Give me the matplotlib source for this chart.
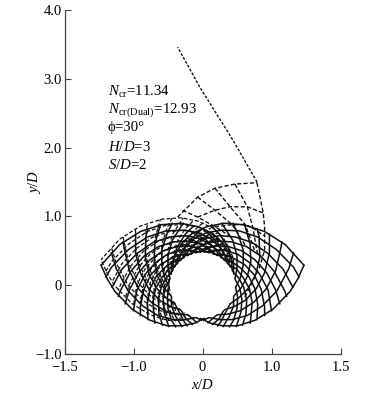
#!/usr/bin/env python3
"""Slip line mesh around a pile, redrawn from the published figure."""
import matplotlib
matplotlib.use('Agg')
import matplotlib.pyplot as plt
from matplotlib.patches import Circle

plt.rcParams['font.family'] = ['Liberation Serif', 'DejaVu Serif']
plt.rcParams['mathtext.fontset'] = 'custom'
plt.rcParams['mathtext.rm'] = 'Liberation Serif'
plt.rcParams['mathtext.it'] = 'Liberation Serif:italic'

# curves, right lobe (the left lobe is its mirror)
family_a = [
    [(-.45, .16), (-.45, .30), (-.39, .45), (-.30, .61), (-.15, .75), (.06, .85), (.31, .90),
     (.59, .88), (.90, .78), (1.20, .59), (1.47, .29)],
    [(-.40, .27), (-.35, .41), (-.26, .54), (-.13, .67), (.05, .76), (.28, .80), (.53, .79),
     (.80, .70), (1.07, .52), (1.32, .26), (1.40, .12)],
    [(-.31, .36), (-.24, .49), (-.11, .59), (.05, .68), (.25, .72), (.48, .70), (.72, .62),
     (.95, .46), (1.17, .23), (1.31, -.03)],
    [(-.21, .43), (-.10, .53), (.04, .60), (.22, .64), (.42, .63), (.64, .56), (.85, .42),
     (1.04, .20), (1.19, -.08), (1.22, -.16)],
    [(-.09, .47), (.04, .54), (.20, .57), (.38, .56), (.57, .50), (.76, .37), (.93, .18),
     (1.06, -.07), (1.12, -.27)],
    [(.03, .48), (.18, .51), (.34, .50), (.51, .45), (.68, .33), (.83, .16), (.95, -.07), (1.00, -.37)],
    [(.16, .45), (.30, .45), (.45, .39), (.61, .30), (.75, .15), (.85, -.06), (.90, -.31), (.90, -.44)],
    [(.27, .40), (.41, .35), (.54, .26), (.67, .13), (.76, -.05), (.80, -.28), (.79, -.50)],
    [(.36, .31), (.49, .24), (.59, .11), (.68, -.05), (.72, -.25), (.70, -.48), (.69, -.55)],
    [(.43, .21), (.53, .10), (.60, -.04), (.64, -.22), (.63, -.42), (.58, -.58)],
    [(.47, .09), (.54, -.04), (.57, -.20), (.56, -.38), (.49, -.60)],
    [(.48, -.03), (.51, -.18), (.50, -.34), (.45, -.51), (.39, -.605)],
    [(.45, -.16), (.45, -.30), (.39, -.45), (.30, -.60)],
    [(.40, -.27), (.26, -.54), (.22, -.59)],
    [(.31, -.36), (.24, -.49), (.145, -.57)],
    [(.21, -.43), (.08, -.545)],
    [(.09, -.47), (.016, -.51)],
]
family_b = [
    [(-.03, -.48), (.11, -.55), (.29, -.59), (.51, -.59), (.76, -.51), (1.02, -.35), (1.27, -.09),
     (1.38, .09), (1.47, .29)],
    [(.09, -.47), (.25, -.50), (.43, -.50), (.65, -.44), (.87, -.30), (1.08, -.08), (1.25, .24), (1.32, .47)],
    [(.21, -.43), (.37, -.42), (.55, -.37), (.74, -.25), (.92, -.06), (1.06, .21), (1.14, .56), (1.15, .63)],
    [(.31, -.36), (.46, -.31), (.62, -.22), (.78, -.05), (.90, .18), (.97, .47), (.97, .74)],
    [(.40, -.27), (.53, -.18), (.66, -.05), (.77, .15), (.83, .40), (.82, .71), (.79, .82)],
    [(.45, -.16), (.56, -.04), (.65, .13), (.70, .34), (.69, .60), (.61, .88)],
    [(.48, -.03), (.55, .11), (.59, .29), (.59, .51), (.51, .76), (.44, .90)],
    [(.47, .09), (.50, .25), (.50, .43), (.44, .65), (.28, .90)],
    [(.43, .21), (.42, .37), (.37, .55), (.25, .74), (.13, .86)],
    [(.36, .31), (.31, .46), (.22, .62), (.05, .78), (0, .82)],
    [(.27, .40), (.18, .53), (.05, .66), (-.12, .75)],
    [(.16, .45), (.04, .56), (-.13, .65), (-.22, .68)],
    [(.03, .48), (-.11, .55), (-.30, .60)],
    [(-.09, .47), (-.22, .51), (-.36, .505)],
    [(-.21, .43), (-.31, .44), (-.40, .42)],
    [(-.31, .36), (-.44, .33)],
    [(-.40, .27), (-.45, .24)],
]
dashed_lift = 0.08

# dashed fan above the circle
fan_curves = [
    [(-.36, .99), (-.07, 1.28), (.18, 1.41), (.47, 1.47), (.79, 1.49)],
    [(-.07, .99), (.18, 1.09), (.40, 1.14), (.65, 1.14), (.88, 1.05)],
    [(.18, .85), (.43, .88), (.62, .88), (.73, .83), (.89, .72)],
    [(-.29, 1.09), (-.07, .99), (.18, .85), (.42, .70)],
    [(-.07, 1.28), (.18, 1.09), (.43, .88), (.62, .58)],
    [(.18, 1.41), (.40, 1.14), (.62, .88), (.76, .49)],
    [(.47, 1.47), (.65, 1.14), (.73, .83), (.80, .44)],
    [(.79, 1.49), (.88, 1.05), (.90, .85), (.90, .51), (.83, .27), (.70, 0), (.60, -.20)],
]
tail_x = [.79, .44, -.04, -.36]
tail_y = [1.50, 2.11, 2.88, 3.46]

pile_radius = 0.47

x_ticks = [-2, -1, 0, 1, 2]
x_tick_labels = ['\u22121.5', '\u22121.0', '0', '1.0', '1.5']
y_ticks = [-1, 0, 1, 2, 3, 4]
y_tick_labels = ['\u22121.0', '0', '1.0', '2.0', '3.0', '4.0']

notes = [r'$N_{\rm cr}$=11.34', r'$N_{\rm cr(Dual)}$=12.93', '\u03d5=30\u00b0',
         r'$H/D$=3', r'$S/D$=2']
note_y = [2.81, 2.55, 2.29, 2.01, 1.74]

fig = plt.figure(figsize=(3.68, 4.01), dpi=100)
ax = fig.add_axes([64.5 / 368, 1 - 354 / 401, 276 / 368, 344 / 401])

for curve in family_a + family_b:
    xs = [p[0] for p in curve]
    ys = [p[1] for p in curve]
    ax.plot(xs, ys, color='#111111', lw=1.1)
    ax.plot([-v for v in xs], ys, color='#111111', lw=1.1)
    ax.plot([-v for v in xs], [v + dashed_lift for v in ys], color='#111111',
            lw=0.9, dashes=(3, 1.6))

for curve in fan_curves:
    ax.plot([p[0] for p in curve], [p[1] for p in curve], color='#111111',
            lw=1.0, dashes=(3, 1.6))
ax.plot(tail_x, tail_y, color='#111111', lw=1.0, dashes=(2, 1.2))

ax.add_patch(Circle((0, 0), pile_radius, fc='white', ec='none', zorder=3))

for text, y in zip(notes, note_y):
    ax.text(-1.37, y, text, fontsize=10.7, va='center', ha='left')

ax.set_xlim(-2, 2)
ax.set_ylim(-1, 4)
ax.set_xticks(x_ticks)
ax.set_xticklabels(x_tick_labels)
ax.set_yticks(y_ticks)
ax.set_yticklabels(y_tick_labels)
ax.tick_params(direction='in', length=4, width=0.8, labelsize=10.5, color='#444444')
ax.tick_params(axis='x', pad=5)
ax.tick_params(axis='y', pad=2)
for side in ['top', 'right']:
    ax.spines[side].set_visible(False)
for side in ['left', 'bottom']:
    ax.spines[side].set_linewidth(0.9)
    ax.spines[side].set_color('#444444')
ax.set_xlabel(r'$x/D$', fontsize=10.5)
ax.set_ylabel(r'$y/D$', fontsize=10.5)
ax.xaxis.set_label_coords(0.5, -0.07)
ax.yaxis.set_label_coords(-0.078, 0.5)

plt.savefig('out.png', dpi=100)
plt.close()
